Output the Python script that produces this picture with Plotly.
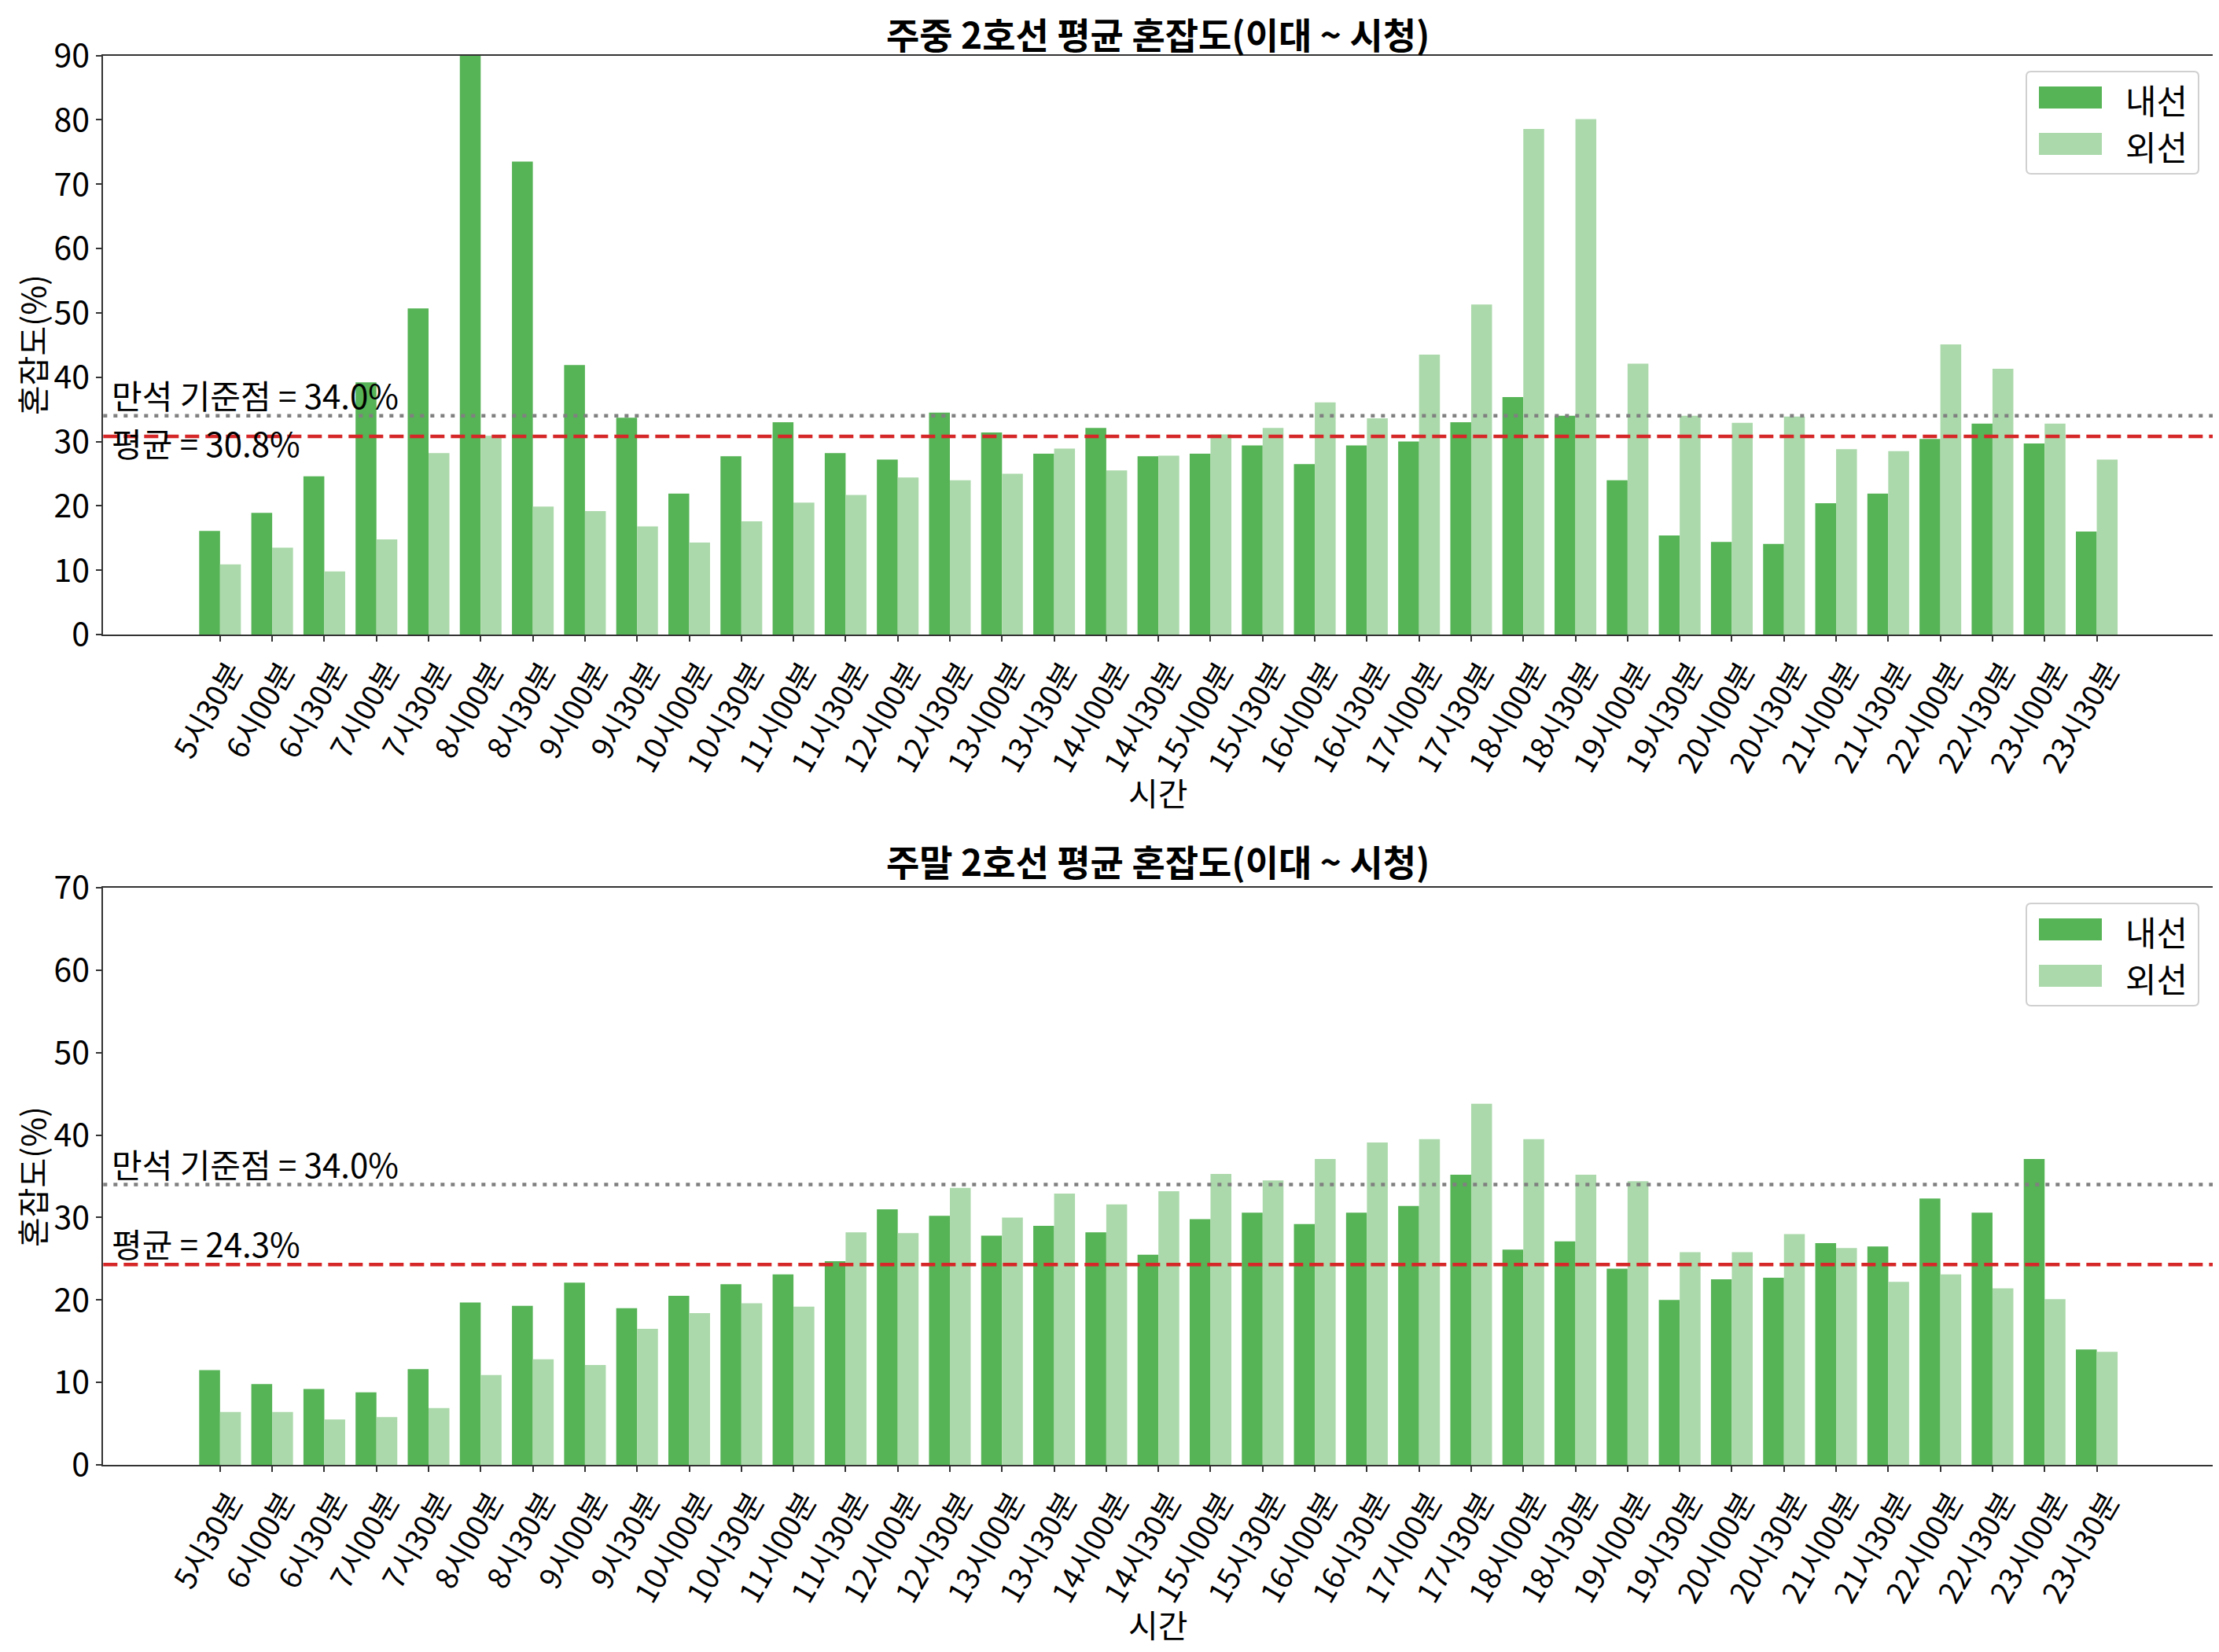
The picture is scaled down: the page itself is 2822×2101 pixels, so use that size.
import plotly.graph_objects as go
from plotly.subplots import make_subplots

# time slots (x categories)
times = ["5시30분", "6시00분", "6시30분", "7시00분", "7시30분", "8시00분", "8시30분",
         "9시00분", "9시30분", "10시00분", "10시30분", "11시00분", "11시30분", "12시00분",
         "12시30분", "13시00분", "13시30분", "14시00분", "14시30분", "15시00분", "15시30분",
         "16시00분", "16시30분", "17시00분", "17시30분", "18시00분", "18시30분", "19시00분",
         "19시30분", "20시00분", "20시30분", "21시00분", "21시30분", "22시00분", "22시30분",
         "23시00분", "23시30분"]

# weekday congestion (%)
weekday_inner = [16.1, 18.9, 24.6, 39.2, 50.7, 95.7, 73.5, 41.9, 33.7, 21.9, 27.7, 33.0, 28.2,
                 27.2, 34.5, 31.4, 28.1, 32.1, 27.7, 28.1, 29.4, 26.5, 29.4, 30.0, 33.0, 36.9,
                 34.0, 24.0, 15.4, 14.4, 14.1, 20.4, 21.9, 30.4, 32.8, 29.7, 16.0]
weekday_outer = [10.9, 13.5, 9.8, 14.8, 28.2, 30.9, 19.9, 19.2, 16.8, 14.3, 17.6, 20.5, 21.7,
                 24.4, 24.0, 25.0, 28.9, 25.5, 27.8, 31.1, 32.1, 36.1, 33.6, 43.5, 51.3, 78.6,
                 80.1, 42.1, 34.0, 32.9, 33.9, 28.8, 28.5, 45.1, 41.3, 32.8, 27.2]

# weekend congestion (%)
weekend_inner = [11.5, 9.8, 9.2, 8.8, 11.6, 19.7, 19.3, 22.1, 19.0, 20.5, 21.9, 23.1, 24.7,
                 31.0, 30.2, 27.8, 29.0, 28.2, 25.5, 29.8, 30.6, 29.2, 30.6, 31.4, 35.2, 26.1,
                 27.1, 23.8, 20.0, 22.5, 22.7, 26.9, 26.5, 32.3, 30.6, 37.1, 14.0]
weekend_outer = [6.4, 6.4, 5.5, 5.8, 6.9, 10.9, 12.8, 12.1, 16.5, 18.4, 19.6, 19.2, 28.2,
                 28.1, 33.6, 30.0, 32.9, 31.6, 33.2, 35.3, 34.5, 37.1, 39.1, 39.5, 43.8, 39.5,
                 35.2, 34.4, 25.8, 25.8, 28.0, 26.3, 22.2, 23.1, 21.4, 20.1, 13.7]

FULL_SEAT = 34.0
weekday_avg = 30.8
weekend_avg = 24.3

W, H = 2822, 2101
C_INNER = "#56b356"
C_OUTER = "#abd9ab"
C_AXIS = "#333333"
FONT = "Noto Sans CJK KR"


def px(x, y):
    """pixel (from top-left) -> paper coords"""
    return x / W, 1 - y / H


def rounded_rect(x0, y0, x1, y1, r):
    def p(x, y):
        a, b = px(x, y)
        return f"{a:.5f},{b:.5f}"
    return (f"M{p(x0 + r, y0)} L{p(x1 - r, y0)} Q{p(x1, y0)} {p(x1, y0 + r)} "
            f"L{p(x1, y1 - r)} Q{p(x1, y1)} {p(x1 - r, y1)} L{p(x0 + r, y1)} "
            f"Q{p(x0, y1)} {p(x0, y1 - r)} L{p(x0, y0 + r)} Q{p(x0, y0)} {p(x0 + r, y0)} Z")


fig = make_subplots(rows=2, cols=1)

panels = [
    # row, title, inner, outer, avg, ymax, avg label anchor, avg yshift, pixel offset
    (1, "주중 2호선 평균 혼잡도(이대 ~ 시청)", weekday_inner, weekday_outer, weekday_avg, 90, "top", 24, 0),
    (2, "주말 2호선 평균 혼잡도(이대 ~ 시청)", weekend_inner, weekend_outer, weekend_avg, 70, "bottom", -4, 1058),
]

for row, title, inner, outer, avg, ymax, avg_anchor, avg_shift, off in panels:
    fig.add_trace(go.Bar(x=times, y=inner, name="내선", marker_color=C_INNER,
                         marker_line_width=0), row=row, col=1)
    fig.add_trace(go.Bar(x=times, y=outer, name="외선", marker_color=C_OUTER,
                         marker_line_width=0), row=row, col=1)

    fig.add_hline(y=FULL_SEAT, line=dict(color="gray", dash="5px,8px", width=4.5), row=row, col=1)
    fig.add_hline(y=avg, line=dict(color="#d62728", dash="18px,8px", width=4.5), row=row, col=1)

    xd = "x domain" if row == 1 else "x2 domain"
    yr = "y" if row == 1 else "y2"
    fig.add_annotation(x=0.0035, y=FULL_SEAT, xref=xd, yref=yr, text=f"만석 기준점 = {FULL_SEAT:.1f}%",
                       showarrow=False, xanchor="left", yanchor="bottom", borderpad=0, yshift=-4,
                       font=dict(size=42, color="black"))
    fig.add_annotation(x=0.0035, y=avg, xref=xd, yref=yr, text=f"평균 = {avg:.1f}%",
                       showarrow=False, xanchor="left", yanchor=avg_anchor, borderpad=0, yshift=avg_shift,
                       font=dict(size=42, color="black"))

    fig.update_yaxes(range=[0, ymax], dtick=10, row=row, col=1)

    # title (box top kept inside the page), axis labels
    fig.add_annotation(x=0.5191, y=px(0, 0 + off)[1], xref="paper", yref="paper", text=f"<b>{title}</b>",
                       showarrow=False, xanchor="center", yanchor="top", borderpad=0,
                       yshift=0 if row == 1 else 6, font=dict(size=46, color="black"))
    fig.add_annotation(x=0.0113, y=px(0, 430 + off)[1], xref="paper", yref="paper", text="혼잡도(%)",
                       textangle=-90, showarrow=False, xanchor="center", yanchor="middle",
                       font=dict(size=41, color="black"))
    fig.add_annotation(x=0.5191, y=px(0, 999 + off)[1], xref="paper", yref="paper", text="시간",
                       showarrow=False, xanchor="center", yanchor="middle",
                       font=dict(size=41, color="black"))

    # legend box (drawn like matplotlib's legend)
    fig.add_shape(type="path", path=rounded_rect(2569, 83 + off, 2788, 213 + off, 6),
                  xref="paper", yref="paper", line=dict(color="#d0d0d0", width=2),
                  fillcolor="rgba(255,255,255,0.8)", layer="above")
    for k, (name, col) in enumerate([("내선", C_INNER), ("외선", C_OUTER)]):
        y0 = 102 + 59 * k + off
        x0p, y0p = px(2585, y0)
        x1p, y1p = px(2665, y0 + 28)
        fig.add_shape(type="rect", x0=x0p, x1=x1p, y0=y1p, y1=y0p, xref="paper", yref="paper",
                      line_width=0, fillcolor=col, layer="above")
        fig.add_annotation(x=px(2693, 0)[0], y=px(0, y0 + 16)[1], xref="paper", yref="paper",
                           text=name, showarrow=False, xanchor="left", yanchor="middle",
                           font=dict(size=43, color="black"))

axis_style = dict(showline=True, linecolor=C_AXIS, linewidth=2, mirror=True,
                  ticks="outside", ticklen=7, tickwidth=2, tickcolor=C_AXIS,
                  showgrid=False, zeroline=False, automargin=False)
fig.update_xaxes(**axis_style, range=[-2.24, 38.24], tickangle=-60, tickmode="array",
                 tickvals=times, ticklabelshift=14, domain=[0.0437, 0.9947],
                 tickfont=dict(size=38, color="black", family=FONT))
fig.update_yaxes(**axis_style, tickfont=dict(size=41, color="black", family=FONT))
fig.update_layout(yaxis=dict(domain=[0.6197, 0.9702]), yaxis2=dict(domain=[0.1171, 0.4664]))

fig.update_layout(
    width=W, height=H,
    barmode="group", bargap=0.2, bargroupgap=0,
    plot_bgcolor="white", paper_bgcolor="white",
    font=dict(family=FONT, color="black"),
    margin=dict(l=0, r=0, t=0, b=0),
    showlegend=False,
)

fig.write_html("out.html")
